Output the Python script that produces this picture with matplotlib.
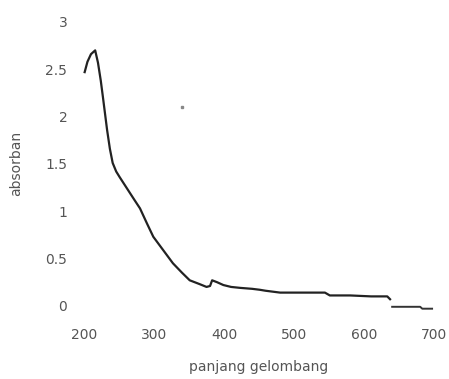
import matplotlib
matplotlib.use('Agg')
import matplotlib.pyplot as plt

# data (wavelength nm, absorbance)
wl_main = [201, 205, 210, 216, 220, 224, 227, 233, 237, 241, 246, 251, 258, 265, 272, 280,
           290, 299, 315, 327, 340, 351, 365, 375, 380, 383, 390, 399, 410, 423, 440, 451,
           459, 480, 510, 544, 551, 580, 610, 633, 637]
abs_main = [2.47, 2.58, 2.66, 2.70, 2.57, 2.38, 2.21, 1.86, 1.66, 1.51, 1.42, 1.36, 1.28, 1.20, 1.12, 1.03,
            0.87, 0.73, 0.57, 0.45, 0.35, 0.27, 0.23, 0.20, 0.21, 0.27, 0.25, 0.22, 0.20, 0.19, 0.18, 0.17,
            0.16, 0.14, 0.14, 0.14, 0.11, 0.11, 0.10, 0.10, 0.07]
wl_tail = [640, 660, 680, 683, 697]
abs_tail = [-0.01, -0.01, -0.01, -0.03, -0.03]
stray = (340, 2.10)

xticks = [200, 300, 400, 500, 600, 700]
yticks = [0, 0.5, 1, 1.5, 2, 2.5, 3]
yticklabels = ['0', '0.5', '1', '1.5', '2', '2.5', '3']

fig = plt.figure(figsize=(4.49, 3.79), dpi=100)
ax = fig.add_axes([0.187, 0.193, 0.78, 0.749])

ax.plot(wl_main, abs_main, color='#222222', linewidth=1.6, clip_on=False)
ax.plot(wl_tail, abs_tail, color='#333333', linewidth=1.4, clip_on=False)
ax.plot([stray[0]], [stray[1]], 's', color='#888888', markersize=2)

ax.set_xlim(200, 700)
ax.set_ylim(0, 3)
ax.set_xticks(xticks)
ax.set_yticks(yticks)
ax.set_yticklabels(yticklabels)
for s in ax.spines.values():
    s.set_visible(False)
ax.tick_params(length=0, labelsize=10, colors='#555555')
ax.tick_params(axis='x', pad=16)
ax.tick_params(axis='y', pad=12)

ax.set_xlabel('panjang gelombang', fontsize=10, color='#555555', labelpad=13)
ax.set_ylabel('absorban', fontsize=10, color='#555555', labelpad=16)

fig.savefig('out.png', dpi=100)
